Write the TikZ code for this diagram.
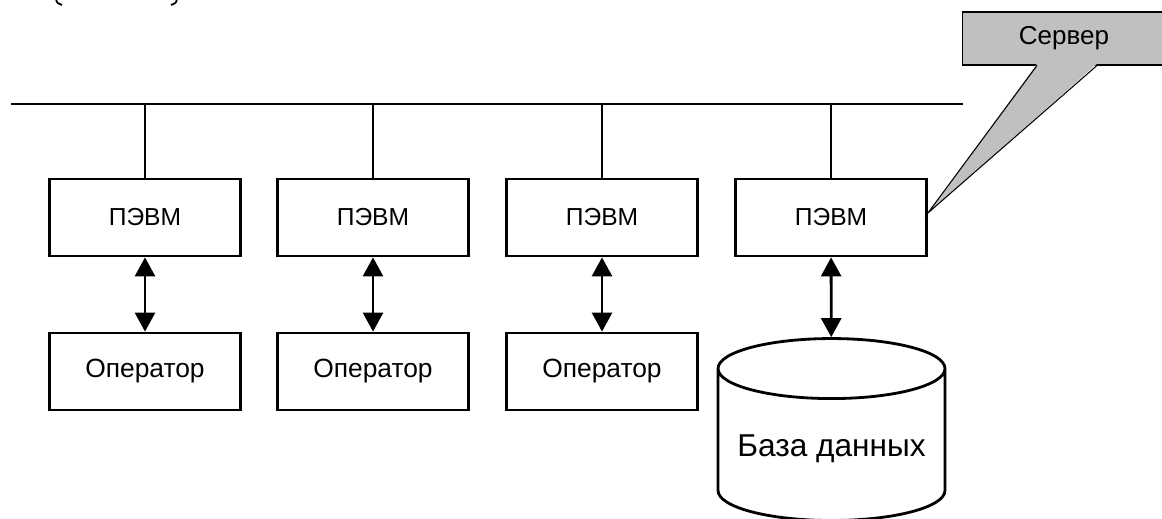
\documentclass[tikz,border=0pt]{standalone}
\usepackage{fontspec}
\setmainfont{Liberation Sans}
\usetikzlibrary{arrows.meta,shapes.geometric}
\definecolor{calloutgray}{RGB}{192,192,192}
\begin{document}
\begin{tikzpicture}[x=0.02cm,y=-0.02cm,
    pcbox/.style={draw,line width=1.6pt,minimum width=3.82cm,minimum height=1.54cm,
      font=\fontsize{14}{16}\selectfont},
    link/.style={line width=1.6pt,
      {Triangle[width=0.4cm,length=0.38cm]}-{Triangle[width=0.4cm,length=0.38cm]}}]
        \useasboundingbox (0,0) rectangle (1162,519);

        % shared bus
        \coordinate (busL) at (11,104);
        \coordinate (busR) at (963,104);
        \draw[line width=1.3pt] (busL) -- (busR);

        % workstations
        \node[pcbox] (pc1) at (145,217.5) {ПЭВМ};
        \node[pcbox] (pc2) at (373,217.5) {ПЭВМ};
        \node[pcbox] (pc3) at (602,217.5) {ПЭВМ};
        \node[pcbox] (pc4) at (831,217.5) {ПЭВМ};
        \foreach \i in {1,...,4}
            \draw[line width=1.3pt] (pc\i.north |- busL) -- (pc\i.north);

        \node[pcbox,font=\fontsize{15}{17}\selectfont] (op1) at (145,371.5) {Оператор};
        \node[pcbox,font=\fontsize{15}{17}\selectfont] (op2) at (373,371.5) {Оператор};
        \node[pcbox,font=\fontsize{15}{17}\selectfont] (op3) at (602,371.5) {Оператор};
        \node[cylinder,draw,shape border rotate=90,aspect=0.3,line width=1.6pt,
            minimum width=4.54cm,minimum height=3.64cm,
            text height=0.36cm,text depth=0.1cm,
            font=\fontsize{18}{21}\selectfont] (db) at (831.5,450) {База данных};

        \draw[link] (pc1) -- (op1);
        \draw[link] (pc2) -- (op2);
        \draw[link] (pc3) -- (op3);
        \draw[link] (pc4) -- (db);

        % server label
        \node[draw,fill=calloutgray,line width=0.6pt,
            minimum width=4.08cm,minimum height=1.06cm,
            font=\fontsize{14.8}{17}\selectfont] (server) at (1064,38.5) {Сервер};
        \fill[calloutgray] ([xshift=-0.54cm,yshift=1pt]server.south) -- ([yshift=0.09cm]pc4.east)
            -- ([xshift=0.66cm,yshift=1pt]server.south) -- cycle;
        \draw[line width=0.6pt] ([xshift=-0.54cm]server.south) -- ([yshift=0.09cm]pc4.east)
            -- ([xshift=0.66cm]server.south);

        % cut-off brackets at the top edge
        \draw[line width=1pt] (56,-1) .. controls (57,3) .. (62,5);
        \draw[line width=1pt] (177,-1) .. controls (176,3) .. (171,5);
    \end{tikzpicture}
\end{document}
